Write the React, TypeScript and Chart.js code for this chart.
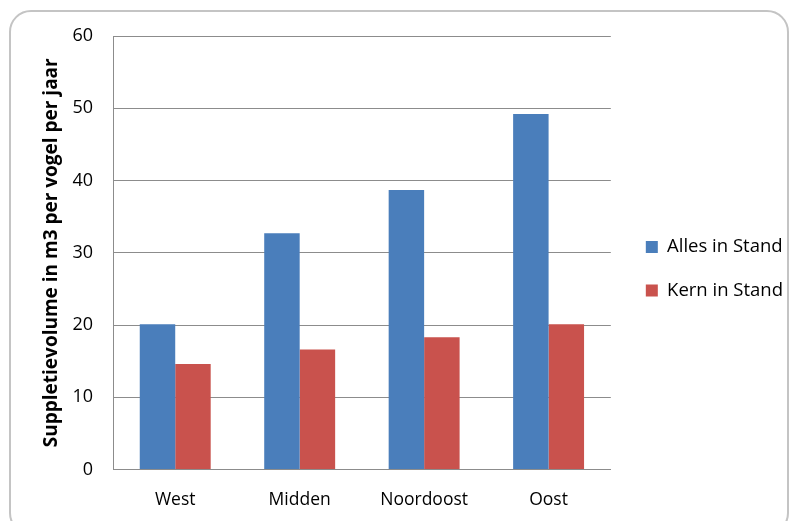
import React, { useEffect, useRef } from "react";
import { Chart, registerables } from "chart.js";

Chart.register(...registerables);

const categories = ["West", "Midden", "Noordoost", "Oost"];
const allesInStand = [20.1, 32.7, 38.7, 49.2];
const kernInStand = [14.6, 16.6, 18.3, 20.1];
const seriesNames = ["Alles in Stand", "Kern in Stand"];
const yTitle = "Suppletievolume in m3 per vogel per jaar";
const yMin = 0;
const yMax = 60;
const yStep = 10;

const FONT = "'Open Sans', Lato, sans-serif";

const legendTweak = {
  id: "legendTweak",
  beforeUpdate(chart: any) {
    const lg = chart.legend;
    if (lg && !lg.__patched) {
      const orig = lg.fit.bind(lg);
      lg.fit = function () {
        orig();
        this.width += 10;
      };
      lg.__patched = true;
    }
  },
  afterLayout(chart: any) {
    const lg = chart.legend;
    if (!lg) return;
    const dx = 10;
    const dy = -15;
    lg.left += dx;
    lg.right += dx;
    lg.top += dy;
    lg.bottom += dy;
  },
};

export default function App() {
  const ref = useRef<HTMLCanvasElement | null>(null);

  useEffect(() => {
    if (!ref.current) return;
    const chart = new Chart(ref.current, {
      type: "bar",
      data: {
        labels: categories,
        datasets: [
          {
            label: seriesNames[0],
            data: allesInStand,
            backgroundColor: "#4A7EBB",
            categoryPercentage: 0.57,
            barPercentage: 1.0,
          },
          {
            label: seriesNames[1],
            data: kernInStand,
            backgroundColor: "#C9524D",
            categoryPercentage: 0.57,
            barPercentage: 1.0,
          },
        ],
      },
      plugins: [legendTweak],
      options: {
        animation: false,
        responsive: false,
        maintainAspectRatio: false,
        layout: { padding: { left: 40, top: 36, right: 0, bottom: 2.5 } },
        plugins: {
          tooltip: { enabled: false },
          legend: {
            position: "right",
            labels: {
              boxWidth: 12,
              boxHeight: 12,
              padding: 25,
              color: "#000",
              font: { family: FONT, size: 18.5 },
            },
          },
        },
        scales: {
          x: {
            grid: { display: false, drawTicks: false },
            border: { color: "#8c8c8c", width: 1 },
            ticks: {
              color: "#000",
              padding: 20.5,
              font: { family: FONT, size: 17.5 },
            },
          },
          y: {
            min: yMin,
            max: yMax,
            afterFit: (s: any) => {
              s.width = 73;
            },
            ticks: {
              stepSize: yStep,
              color: "#000",
              padding: 20,
              font: { family: FONT, size: 18 },
            },
            grid: { color: "#8c8c8c", drawTicks: false },
            border: { color: "#8c8c8c", width: 1 },
            title: {
              display: true,
              text: yTitle,
              color: "#000",
              padding: 0,
              font: { family: FONT, size: 19, weight: "bold" },
            },
          },
        },
      },
    });
    return () => chart.destroy();
  }, []);

  return (
    <div style={{ position: "absolute", left: 0, top: 0, width: 793, height: 521, background: "#fff", overflow: "hidden" }}>
      <div
        style={{
          position: "absolute",
          left: 9,
          top: 10,
          width: 780,
          height: 525,
          border: "2px solid #c4c4c4",
          borderRadius: 22,
          boxSizing: "border-box",
        }}
      />
      <canvas ref={ref} width={793} height={534} style={{ position: "absolute", left: 0, top: 0 }} />
    </div>
  );
}
